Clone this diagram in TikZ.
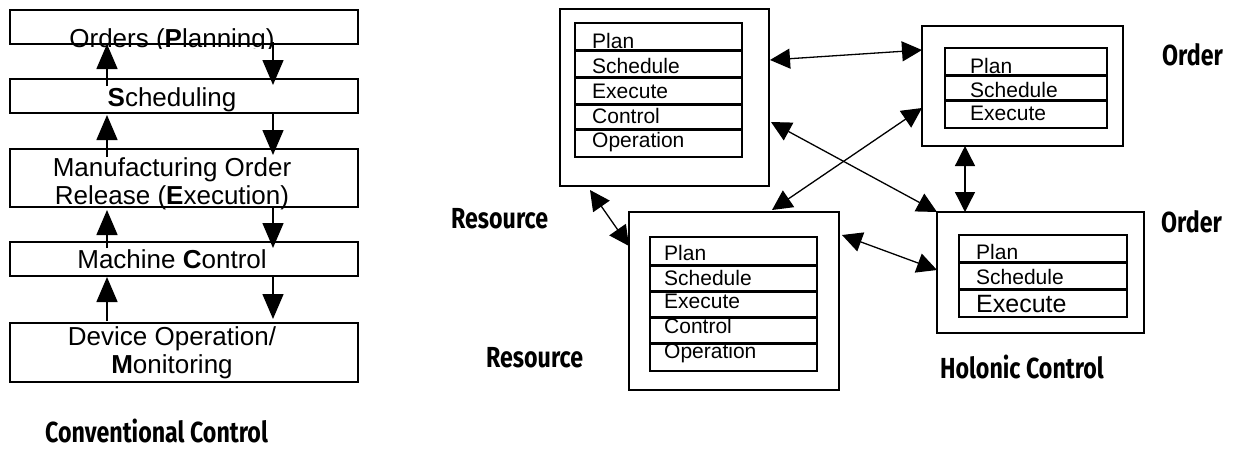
\documentclass[tikz,border=0pt]{standalone}
\usepackage{fontspec}
\setmainfont{Liberation Sans}
\newfontfamily\labelfont[FakeStretch=0.8]{Fira Sans}
\usetikzlibrary{arrows.meta,calc}

\begin{document}
\begin{tikzpicture}[x=1pt,y=-1pt,
  box/.style={draw, line width=1.4pt, inner sep=0pt, outer sep=0pt, anchor=north west},
  layertext/.style={inner sep=0pt, anchor=base, font=\fontsize{26}{28}\selectfont},
  rowtext/.style={inner sep=0pt, anchor=base west, font=\fontsize{21}{24}\selectfont},
  caption/.style={inner sep=0pt, anchor=base west, font=\labelfont\bfseries\fontsize{29}{32}\selectfont},
  sep/.style={line width=3pt},
  flow/.style={line width=1.4pt, -{Triangle[length=25pt,width=21pt]}},
  link/.style={line width=1.3pt, {Triangle[length=20pt,width=20pt]}-{Triangle[length=20pt,width=20pt]}}
]
\useasboundingbox (0,0) rectangle (1236,448);

% ---------- conventional control: stacked layers ----------
\node[box, minimum width=348pt, minimum height=34pt] (b1) at (10,10) {};
\node[box, minimum width=348pt, minimum height=34pt] (b2) at (10,79) {};
\node[box, minimum width=348pt, minimum height=58pt] (b3) at (10,149) {};
\node[box, minimum width=348pt, minimum height=34pt] (b4) at (10,242) {};
\node[box, minimum width=348pt, minimum height=59pt] (b5) at (10,323) {};

\begin{scope}
  \clip (0,0) rectangle (370,48);
  \node[layertext] (t1) at (172,47) {Orders (\textbf{P}lanning)};
\end{scope}
\node[layertext] (t2) at (172,106) {\textbf{S}cheduling};
\node[layertext] (t3a) at (172,176) {Manufacturing Order};
\node[layertext] (t3b) at (172,204) {Release (\textbf{E}xecution)};
\node[layertext] (t4) at (172,268) {Machine \textbf{C}ontrol};
\node[layertext] (t5a) at (172,345) {Device Operation/};
\node[layertext] (t5b) at (172,373) {\textbf{M}onitoring};

% upward feedback
\draw[flow] ($(b2.north west)+(97,7)$) -- ($(b1.south west)+(97,0)$);
\draw[flow] ($(b3.north west)+(97,8)$) -- ($(b2.south west)+(97,2)$);
\draw[flow] ($(b4.north west)+(97,6)$) -- ($(b3.south west)+(97,3)$);
\draw[flow] ($(b5.north west)+(97,-2)$) -- ($(b4.south west)+(97,1)$);
% downward commands
\draw[flow] ($(b1.south west)+(263,-2)$) -- ($(b2.north west)+(263,6)$);
\draw[flow] ($(b2.south west)+(263,0)$) -- ($(b3.north west)+(263,6)$);
\draw[flow] ($(b3.south west)+(263,0)$) -- ($(b4.north west)+(263,6)$);
\draw[flow] ($(b4.south west)+(263,0)$) -- ($(b5.north west)+(263,-4)$);

\node[caption] (cc) at (45,442) {Conventional Control};

% ---------- holonic control ----------
% resource holon (upper)
\node[box, minimum width=209pt, minimum height=177pt] (hA) at (560,9) {};
\node[box, minimum width=167pt, minimum height=134pt] (iA) at (575,23) {};
\node[rowtext] (a1) at (592,48) {Plan};
\node[rowtext] (a2) at (592,73) {Schedule};
\node[rowtext] (a3) at (592,98) {Execute};
\node[rowtext] (a4) at (592,123) {Control};
\node[rowtext] (a5) at (592,147) {Operation};
\foreach \y in {50,77,104,129}
  \draw[sep] (iA.west |- 0,\y) -- (iA.east |- 0,\y);

% order holon (upper)
\node[box, minimum width=201pt, minimum height=120pt] (hB) at (922,26) {};
\node[box, minimum width=162pt, minimum height=80pt] (iB) at (945,48) {};
\node[rowtext] (b1t) at (970,73) {Plan};
\node[rowtext] (b2t) at (970,97) {Schedule};
\node[rowtext] (b3t) at (970,120) {Execute};
\foreach \y in {75,100}
  \draw[sep] (iB.west |- 0,\y) -- (iB.east |- 0,\y);

% resource holon (lower)
\node[box, minimum width=210pt, minimum height=178pt] (hC) at (629,212) {};
\node[box, minimum width=167pt, minimum height=134pt] (iC) at (650,237) {};
\node[rowtext] (c1) at (664,260) {Plan};
\node[rowtext] (c2) at (664,285) {Schedule};
\node[rowtext] (c3) at (664,308) {Execute};
\node[rowtext] (c4) at (664,333) {Control};
\node[rowtext] (c5) at (664,358) {Operation};
\foreach \y in {265,291,317,343}
  \draw[sep] (iC.west |- 0,\y) -- (iC.east |- 0,\y);

% order holon (lower)
\node[box, minimum width=207pt, minimum height=121pt] (hD) at (937,212) {};
\node[box, minimum width=168pt, minimum height=82pt] (iD) at (959,235) {};
\node[rowtext] (d1) at (976,259) {Plan};
\node[rowtext] (d2) at (976,284) {Schedule};
\node[rowtext, font=\fontsize{25}{28}\selectfont] (d3) at (976,312) {Execute};
\foreach \y in {262,289}
  \draw[sep] (iD.west |- 0,\y) -- (iD.east |- 0,\y);

% cooperation links between holons
\draw[link] ($(hA.north east)+(1,51)$) -- ($(hB.north west)+(0,24)$);
\draw[link] ($(hA.north east)+(2,113)$) -- (hD.north west);
\draw[link] ($(hC.north west)+(143,-2)$) -- ($(hB.north west)+(0,82)$);
\draw[link] ($(hB.south west)+(43,0)$) -- ($(hD.north west)+(28,0)$);
\draw[link] ($(hA.south west)+(30,4)$) -- ($(hC.north west)+(0,34)$);
\draw[link] ($(hC.north east)+(3,23)$) -- ($(hD.north west)+(0,58)$);

% labels
\node[caption] (lo1) at (1162,65) {Order};
\node[caption] (lo2) at (1161,232) {Order};
\node[caption] (lr1) at (451,228) {Resource};
\node[caption] (lr2) at (486,367) {Resource};
\node[caption] (hc) at (940,378) {Holonic Control};
\end{tikzpicture}
\end{document}
